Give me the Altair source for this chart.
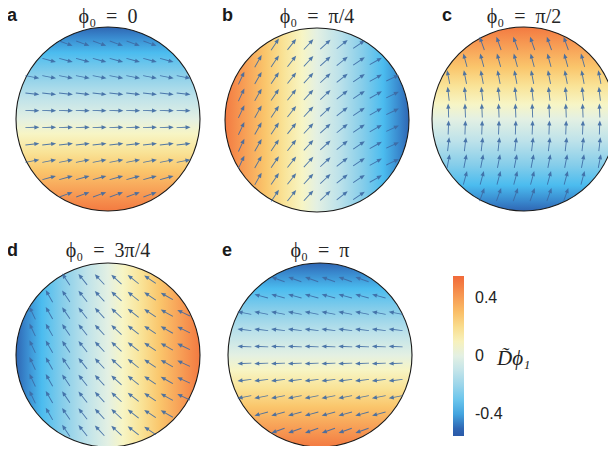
import math
import pandas as pd
import altair as alt

# ---------------- data ----------------
panel_letters = ["a", "b", "c", "d", "e"]
panel_titles = ["ϕ₀\u2002=\u20020", "ϕ₀\u2002=\u2002π/4", "ϕ₀\u2002=\u2002π/2", "ϕ₀\u2002=\u20023π/4", "ϕ₀\u2002=\u2002π"]
phi0_deg = [0, 45, 90, 135, 180]
# direction (deg, counter-clockwise from +x) towards which D̃ϕ1 is most negative (blue side)
blue_side_deg = [90, 0, 270, 180, 90]
edge_value = 0.5            # |D̃ϕ1| reached at the rim of each disk
tilt_deg_per_unit = 48      # rotation of the director arrows per unit of D̃ϕ1
grid_n = 10                 # arrows per row / column of the grid

cmap_values = [-0.55, -0.5, -0.45, -0.36, -0.25, -0.12, 0.0, 0.08, 0.18, 0.28, 0.4, 0.5, 0.55]
cmap_colors = ["#2b5aa8", "#2f66b3", "#3886cc", "#4bbcef", "#85cdea", "#bde2ea", "#e3f0e3",
               "#f7f5c5", "#f9e397", "#fac66c", "#f79d55", "#f37a41", "#f16a3a"]
cbar_ticks = [-0.4, 0, 0.4]
cbar_title = "D̃ϕ₁"

# ---------------- layout (page pixels) ----------------
centers = {"a": (108, 119), "b": (317, 120), "c": (524, 119), "d": (108, 355), "e": (320, 355)}
letter_pos = {"a": (7, 20.5), "b": (222, 20.5), "c": (442, 20.5), "d": (7, 256), "e": (222, 256)}
title_base = {"a": 22.5, "b": 22.5, "c": 22.5, "d": 256.5, "e": 256.5}
radius = 92
spacing = 16.8
arrow_len = 14
W, H = 600, 438

xs = alt.Scale(domain=[8, 8 + W])
ys = alt.Scale(domain=[8, 8 + H], reverse=True)

# ---------------- tables ----------------
panels = pd.DataFrame({
    "letter": panel_letters,
    "title": panel_titles,
    "cx": [centers[l][0] for l in panel_letters],
    "cy": [centers[l][1] for l in panel_letters],
    "lx": [letter_pos[l][0] for l in panel_letters],
    "ly": [letter_pos[l][1] for l in panel_letters],
    "ty": [title_base[l] for l in panel_letters],
})

rows = []
offs = [(i - (grid_n - 1) / 2) * spacing for i in range(grid_n)]
for li, l in enumerate(panel_letters):
    cx, cy = centers[l]
    d = math.radians(blue_side_deg[li])
    dx, dy = math.cos(d), math.sin(d)
    for oy in offs:
        for ox in offs:
            u, v = ox / radius, -oy / radius
            if u * u + v * v > 1.0:
                continue
            val = -edge_value * (u * dx + v * dy)
            theta = phi0_deg[li] + tilt_deg_per_unit * val
            rows.append({"panel": l, "x": cx + ox, "y": cy + oy,
                         "angle": (-theta) % 360, "value": val})
arrows = pd.DataFrame(rows)

# ---------------- layers ----------------
layers = []
for li, l in enumerate(panel_letters):
    d = math.radians(blue_side_deg[li])
    dx, dy = math.cos(d), math.sin(d)
    stops = [alt.GradientStop(offset=(v + edge_value) / (2 * edge_value), color=c)
             for v, c in zip(cmap_values, cmap_colors) if -edge_value <= v <= edge_value]
    grad = alt.LinearGradient(gradient="linear", stops=stops,
                              x1=0.5 + 0.5 * dx, y1=0.5 - 0.5 * dy,
                              x2=0.5 - 0.5 * dx, y2=0.5 + 0.5 * dy)
    disk = alt.Chart(panels).transform_filter(alt.datum.letter == l).mark_point(
        shape="circle", filled=True, fill=grad, size=(2 * radius) ** 2,
        opacity=1, stroke="#1a1a1a", strokeWidth=1.1
    ).encode(x=alt.X("cx:Q", scale=xs, axis=None), y=alt.Y("cy:Q", scale=ys, axis=None))
    layers.append(disk)

arrow_shape = "M -1 -0.065 L 0.28 -0.065 L 0.28 -0.3 L 1 0 L 0.28 0.3 L 0.28 0.065 L -1 0.065 Z"
arrow_layer = alt.Chart(arrows).mark_point(
    shape=arrow_shape, filled=True, size=arrow_len ** 2, opacity=0.9, color="#3d69a3", strokeWidth=0
).encode(
    x=alt.X("x:Q", scale=xs, axis=None),
    y=alt.Y("y:Q", scale=ys, axis=None),
    angle=alt.Angle("angle:Q", scale=None),
)
layers.append(arrow_layer)

letters = alt.Chart(panels).mark_text(
    font="Liberation Sans", fontWeight="bold", fontSize=18, align="left", baseline="alphabetic", color="#1a1a1a"
).encode(x=alt.X("lx:Q", scale=xs, axis=None), y=alt.Y("ly:Q", scale=ys, axis=None), text="letter:N")
titles = alt.Chart(panels).mark_text(
    font="Liberation Serif", fontSize=20, align="center", baseline="alphabetic", color="#262626"
).encode(x=alt.X("cx:Q", scale=xs, axis=None), y=alt.Y("ty:Q", scale=ys, axis=None), text="title:N")
layers += [letters, titles]

cmap_df = pd.DataFrame({"v": cmap_values})
legend_layer = alt.Chart(cmap_df).mark_point(opacity=0).encode(
    color=alt.Color("v:Q",
                    scale=alt.Scale(domain=cmap_values, range=cmap_colors, interpolate="rgb"),
                    legend=alt.Legend(orient="none", legendX=445, legendY=268, direction="vertical",
                                      gradientLength=160, gradientThickness=11, title=None,
                                      values=cbar_ticks,
                                      labelExpr="datum.value == 0 ? '0' : (datum.value < 0 ? '-' : '') + format(abs(datum.value), '.1f')",
                                      labelFont="Liberation Sans", labelFontSize=16, labelColor="#222222",
                                      labelOffset=11, gradientStrokeWidth=0))
)
layers.append(legend_layer)

cb_title = pd.DataFrame({"t": [cbar_title], "x": [497], "y": [365]})
layers.append(alt.Chart(cb_title).mark_text(
    font="Liberation Serif", fontStyle="italic", fontSize=21, align="left", baseline="alphabetic", color="#222222"
).encode(x=alt.X("x:Q", scale=xs, axis=None), y=alt.Y("y:Q", scale=ys, axis=None), text="t:N"))

chart = alt.layer(*layers).properties(
    width=W, height=H, padding=0, autosize=alt.AutoSizeParams(type="none")
).configure_view(stroke=None)

chart.save("out.html", embed_options={"renderer": "svg", "actions": False})
